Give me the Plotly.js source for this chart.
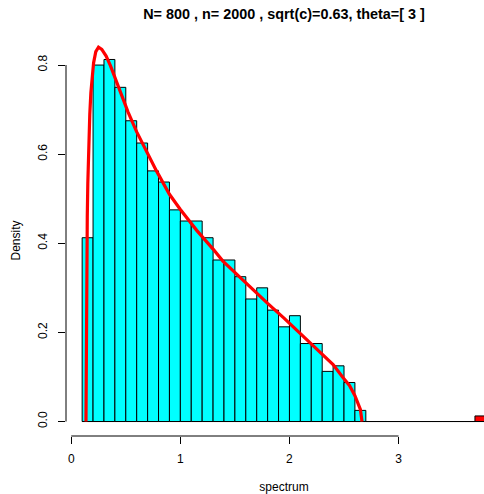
<!DOCTYPE html>
<html>
<head>
<meta charset="utf-8">
<script src="https://cdn.plot.ly/plotly-3.0.1.min.js"></script>
<style>
html,body{margin:0;padding:0;overflow:hidden;background:#fff;}
#chart{width:560px;height:494px;}
</style>
</head>
<body>
<div id="chart"></div>
<script>
// histogram bins (mid points of 0.1-wide bins) and densities
var binMids = [0.15,0.25,0.35,0.45,0.55,0.65,0.75,0.85,0.95,1.05,1.15,1.25,1.35,1.45,1.55,1.65,1.75,1.85,1.95,2.05,2.15,2.25,2.35,2.45,2.55,2.65,2.75,2.85,2.95,3.05,3.15,3.25,3.35,3.45,3.55,3.65,3.75];
var binDensity = [0.4125,0.8,0.8125,0.75,0.675,0.625,0.5625,0.5375,0.475,0.45,0.45,0.4125,0.3625,0.3625,0.325,0.275,0.3,0.25,0.2125,0.2375,0.175,0.175,0.1125,0.125,0.0875,0.025,0,0,0,0,0,0,0,0,0,0,0.0125];
var binWidth = 0.1;

// limiting (Marchenko-Pastur) density curve
var curveX = [0.135,0.138,0.142,0.147,0.152,0.159,0.17,0.18,0.19,0.205,0.225,0.25,0.28,0.32,0.36,0.40,0.45,0.52,0.60,0.70,0.78,0.90,1.00,1.15,1.21,1.30,1.39,1.50,1.59,1.70,1.80,1.95,2.09,2.20,2.31,2.40,2.49,2.55,2.60,2.63,2.65,2.665];
var curveY = [0.0,0.24,0.36,0.46,0.535,0.61,0.69,0.738,0.775,0.805,0.83,0.84,0.835,0.82,0.798,0.772,0.74,0.695,0.65,0.60,0.563,0.51,0.476,0.429,0.413,0.387,0.36,0.334,0.315,0.288,0.265,0.232,0.2,0.176,0.15,0.128,0.099,0.081,0.058,0.042,0.027,0.0];

var xTicks = [0,1,2,3];
var yTicks = [0,0.2,0.4,0.6,0.8];
var yTickText = ['0.0','0.2','0.4','0.6','0.8'];
var titleText = 'N= 800 , n= 2000 , sqrt(c)=0.63, theta=[ 3 ]';

var edge = curveX[curveX.length-1];
var barColors = binMids.map(function(m){ return m > edge ? '#FF0000' : '#00FFFF'; });

var bLo = binMids[0] - binWidth/2, bHi = binMids[binMids.length-1] + binWidth/2;
var xr = [bLo - 0.04*(bHi-bLo), bHi + 0.04*(bHi-bLo)];
var yMax = Math.max.apply(null, binDensity);
var yr = [-0.04*yMax, yMax*1.04];

var traces = [
  {type:'bar', x:binMids, y:binDensity, width:binWidth,
   marker:{color:barColors, line:{color:'#000000', width:1}}, hoverinfo:'skip'},
  {type:'scatter', mode:'lines', x:curveX, y:curveY,
   line:{color:'#FF0000', width:3.2}, hoverinfo:'skip'}
];

var font = {family:'"Liberation Sans", Arial, Helvetica, sans-serif', size:12, color:'#000'};

var layout = {
  width:560, height:494,
  margin:{l:66, r:58, t:45, b:58},
  paper_bgcolor:'#fff', plot_bgcolor:'#fff',
  showlegend:false,
  font:font,
  bargap:0,
  title:{text:'<b>'+titleText+'</b>', font:{family:font.family, size:14.4, color:'#000'},
         x:0.5, xref:'paper', xanchor:'center', y:1-14/494, yref:'container', yanchor:'middle'},
  xaxis:{range:xr, showgrid:false, zeroline:false, showline:false,
         tickvals:xTicks, ticktext:xTicks.map(String), ticks:'outside', ticklen:7, tickcolor:'#000', tickwidth:1,
         ticklabelstandoff:5,
         title:{text:'spectrum', font:font, standoff:18}},
  yaxis:{range:yr, showgrid:false, zeroline:false, showline:false,
         tickvals:yTicks, ticktext:yTickText, tickangle:-90, ticks:'outside', ticklen:7, tickcolor:'#000', tickwidth:1,
         ticklabelstandoff:6,
         title:{text:'Density', font:font, standoff:13}},
  shapes:[
    {type:'line', xref:'x', yref:'paper', x0:xTicks[0], x1:xTicks[xTicks.length-1], y0:0, y1:0, line:{color:'#000', width:1}},
    {type:'line', xref:'paper', yref:'y', x0:0, x1:0, y0:yTicks[0], y1:yTicks[yTicks.length-1], line:{color:'#000', width:1}},
    {type:'line', xref:'x', yref:'y', x0:bLo, x1:bHi, y0:0, y1:0, line:{color:'#000', width:1}, layer:'below'}
  ]
};

Plotly.newPlot('chart', traces, layout, {displayModeBar:false, staticPlot:true});
</script>
</body>
</html>
